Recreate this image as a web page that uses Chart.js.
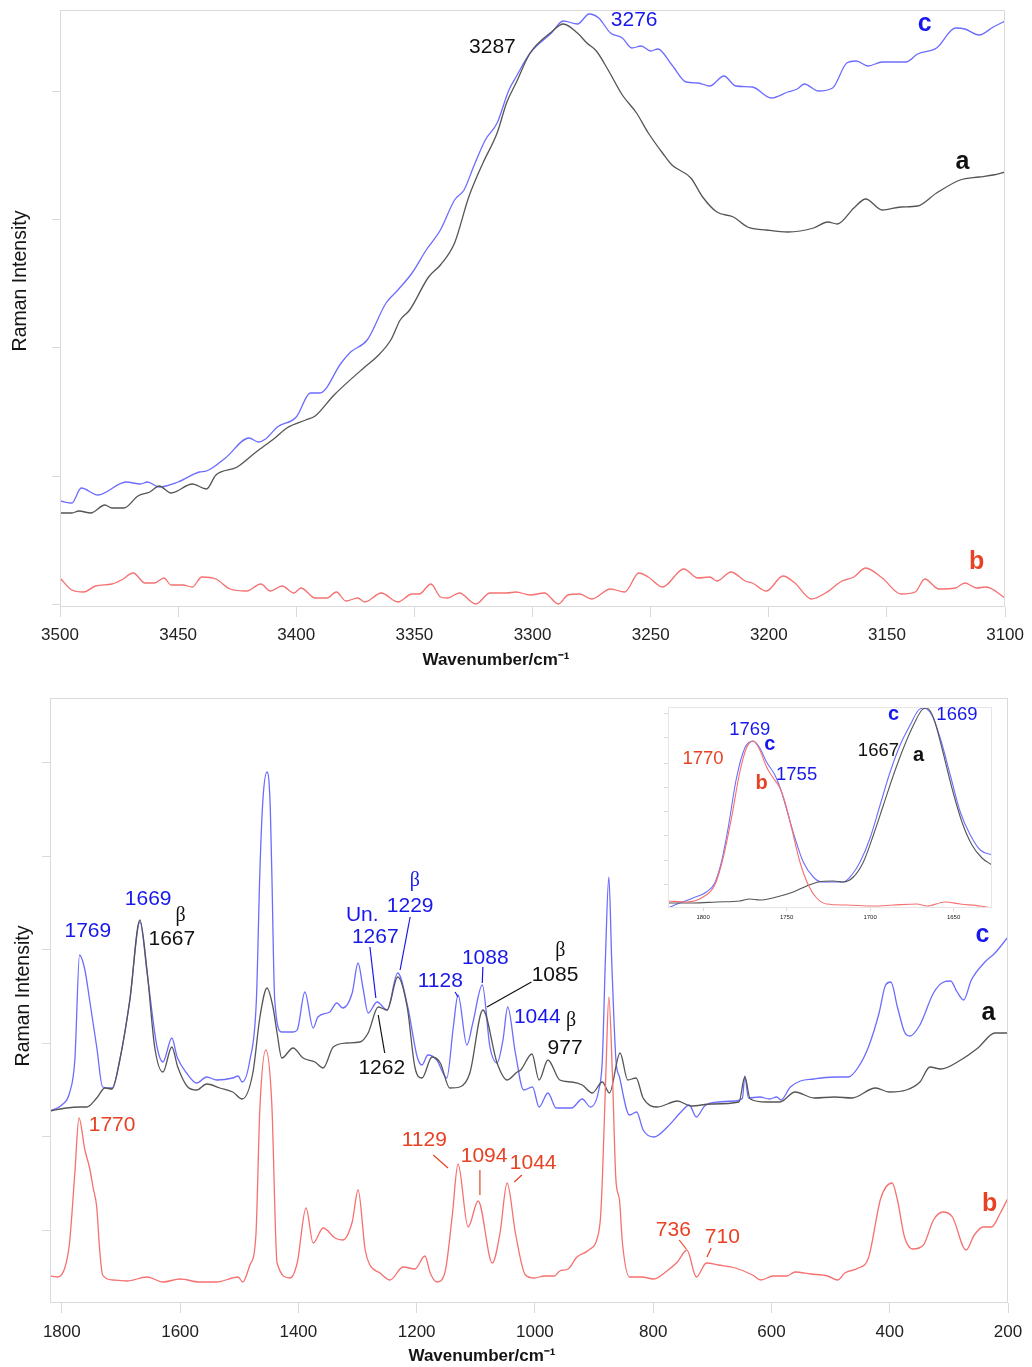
<!DOCTYPE html>
<html>
<head>
<meta charset="utf-8">
<script src="https://cdn.jsdelivr.net/npm/chart.js@4.4.1/dist/chart.umd.min.js"></script>
<style>
html,body{margin:0;padding:0;background:#fff;}
body{width:1032px;height:1367px;position:relative;overflow:hidden;}
.box{position:absolute;}
#topBox{left:0;top:0;width:1032px;height:683px;}
#botBox{left:0;top:683px;width:1032px;height:684px;}
#insetBox{left:662px;top:698px;width:342px;height:228px;}
</style>
</head>
<body>
<div class="box" id="topBox"><canvas id="topChart" width="1032" height="683"></canvas></div>
<div class="box" id="botBox"><canvas id="botChart" width="1032" height="684"></canvas></div>
<div class="box" id="insetBox"><canvas id="insetChart" width="342" height="228"></canvas></div>
<script>
// ---------------- DATA (wavenumber cm-1, Raman intensity a.u.) ----------------
// Top panel: 3500-3100 cm-1
const topXTicks = [3500, 3450, 3400, 3350, 3300, 3250, 3200, 3150, 3100];
const topYTicks = [3, 131, 260, 388, 516];
const topA = [[3500,94],[3495,94],[3492,96],[3487,94],[3481,102],[3478,99],[3473,99],[3467,111],[3462,115],[3458,121],[3453,114],[3444,123],[3438,118],[3434,132],[3425,140],[3417,155],[3409,169],[3404,179],[3396,187],[3392,191],[3384,212],[3371,240],[3366,250],[3360,267],[3356,287],[3352,297],[3344,330],[3339,342],[3333,364],[3327,410],[3321,444],[3315,474],[3311,504],[3307,524],[3301,554],[3292,575],[3287,583],[3281,574],[3277,564],[3273,556],[3268,537],[3262,512],[3256,494],[3251,474],[3245,454],[3241,442],[3233,429],[3228,410],[3222,395],[3215,390],[3209,380],[3201,377],[3192,375],[3181,379],[3175,385],[3171,383],[3164,399],[3159,408],[3152,397],[3144,400],[3137,401],[3129,414],[3119,427],[3111,430],[3105,432],[3100,435]];
const topB = [[3500,29],[3495,17],[3490,15],[3485,21],[3478,23],[3474,27],[3469,34],[3464,24],[3460,24],[3456,29],[3453,22],[3448,22],[3444,20],[3440,30],[3434,28],[3428,18],[3421,16],[3415,23],[3411,16],[3406,21],[3401,14],[3398,19],[3392,9],[3387,9],[3383,15],[3379,6],[3374,9],[3371,5],[3364,14],[3357,5],[3351,13],[3348,13],[3343,23],[3339,10],[3336,9],[3331,14],[3324,3],[3318,14],[3311,14],[3307,15],[3301,12],[3295,14],[3289,3],[3285,12],[3280,13],[3275,8],[3267,18],[3261,15],[3255,34],[3251,30],[3245,20],[3236,38],[3230,29],[3225,30],[3222,26],[3216,35],[3210,26],[3207,24],[3201,16],[3194,31],[3189,24],[3182,8],[3176,14],[3169,26],[3164,30],[3159,39],[3152,29],[3144,13],[3138,15],[3134,28],[3128,18],[3121,19],[3117,24],[3112,19],[3108,20],[3100,9]];
const topC = [[3500,106],[3495,104],[3491,119],[3484,112],[3472,125],[3466,123],[3463,125],[3458,120],[3450,125],[3441,135],[3438,136],[3430,149],[3420,169],[3416,165],[3413,168],[3408,180],[3400,190],[3394,214],[3390,214],[3381,244],[3377,255],[3370,267],[3362,304],[3357,317],[3351,334],[3345,357],[3339,377],[3333,407],[3329,417],[3325,440],[3320,467],[3315,484],[3310,517],[3307,530],[3301,554],[3292,574],[3287,586],[3281,583],[3276,593],[3272,589],[3267,574],[3262,569],[3258,559],[3254,561],[3250,556],[3247,558],[3241,542],[3235,525],[3230,524],[3225,521],[3219,531],[3214,521],[3207,520],[3199,509],[3192,515],[3188,518],[3185,523],[3179,516],[3173,519],[3167,544],[3163,546],[3158,541],[3152,545],[3142,545],[3137,553],[3129,559],[3121,579],[3117,578],[3111,572],[3105,580],[3100,586]];

// Bottom panel: 1820-200 cm-1
const botXTicks = [1800, 1600, 1400, 1200, 1000, 800, 600, 400, 200];
const botYTicks = [73, 167, 260, 354, 447, 541];
const botA = [[1820,192],[1792,195],[1770,196],[1758,196],[1741,205],[1727,215],[1715,214],[1702,243],[1685,303],[1668,383],[1656,333],[1643,256],[1629,231],[1614,256],[1604,236],[1587,216],[1572,213],[1555,219],[1533,215],[1511,211],[1495,204],[1477,230],[1465,286],[1453,315],[1443,296],[1436,270],[1428,245],[1409,255],[1392,245],[1372,241],[1358,235],[1341,256],[1318,260],[1296,261],[1282,270],[1265,296],[1250,293],[1232,326],[1216,296],[1203,236],[1191,225],[1174,246],[1160,240],[1144,215],[1127,216],[1110,230],[1088,293],[1064,240],[1047,223],[1030,231],[1024,233],[1005,249],[993,223],[978,243],[958,223],[938,221],[920,218],[903,210],[886,221],[874,210],[856,250],[843,223],[829,225],[817,205],[793,196],[759,202],[736,197],[701,199],[655,201],[645,226],[636,204],[609,201],[586,201],[560,211],[528,205],[493,206],[464,205],[424,215],[401,211],[372,213],[349,221],[332,236],[314,234],[280,243],[251,255],[222,270],[200,270]];
const botB = [[1820,27],[1807,26],[1795,35],[1787,60],[1778,130],[1771,185],[1761,153],[1753,135],[1747,115],[1741,96],[1736,53],[1731,28],[1714,23],[1690,22],[1656,26],[1629,21],[1600,24],[1567,21],[1538,21],[1502,26],[1494,21],[1482,38],[1472,66],[1465,196],[1455,253],[1445,200],[1436,40],[1414,25],[1402,40],[1387,95],[1375,60],[1358,75],[1338,65],[1325,63],[1309,81],[1299,113],[1287,53],[1279,38],[1262,30],[1245,23],[1223,36],[1203,34],[1186,47],[1177,30],[1166,21],[1152,31],[1140,86],[1130,139],[1113,76],[1096,102],[1072,40],[1059,70],[1047,120],[1033,70],[1016,28],[1001,25],[984,27],[967,27],[958,32],[944,34],[929,46],[909,53],[894,66],[889,86],[886,123],[880,230],[875,306],[869,230],[863,123],[857,103],[852,60],[840,26],[819,26],[799,24],[779,31],[759,41],[743,53],[727,26],[710,40],[690,38],[661,35],[632,28],[618,23],[597,27],[574,27],[560,31],[534,29],[505,27],[488,23],[476,30],[453,35],[436,45],[415,105],[396,120],[387,103],[375,66],[361,54],[343,58],[326,83],[310,91],[294,86],[271,53],[257,68],[242,76],[228,76],[213,90],[200,105]];
const botC = [[1820,192],[1800,198],[1787,210],[1778,243],[1770,348],[1761,333],[1753,303],[1741,256],[1731,216],[1715,215],[1702,243],[1685,303],[1668,381],[1655,326],[1639,256],[1629,241],[1614,265],[1605,246],[1589,230],[1572,220],[1555,226],[1538,223],[1511,225],[1502,227],[1495,221],[1482,243],[1471,303],[1465,433],[1460,503],[1453,531],[1448,503],[1445,433],[1440,303],[1428,271],[1409,271],[1402,273],[1389,311],[1375,275],[1367,286],[1347,291],[1335,300],[1325,295],[1309,310],[1299,340],[1291,316],[1282,290],[1267,301],[1250,293],[1232,330],[1215,296],[1199,246],[1191,238],[1181,248],[1166,243],[1149,225],[1138,276],[1130,308],[1115,258],[1105,280],[1089,318],[1076,256],[1064,240],[1054,263],[1046,296],[1033,250],[1019,213],[1004,216],[993,196],[978,210],[964,195],[938,195],[920,204],[906,196],[892,213],[886,243],[881,340],[875,426],[870,340],[863,243],[857,226],[840,188],[828,191],[817,173],[799,166],[776,176],[753,191],[739,198],[727,186],[713,197],[690,201],[661,202],[649,205],[645,227],[639,205],[620,206],[603,204],[591,206],[584,203],[568,216],[551,222],[528,224],[516,225],[488,226],[470,226],[453,236],[436,256],[418,290],[407,318],[398,321],[387,296],[375,271],[366,267],[349,278],[326,310],[309,321],[297,322],[286,311],[275,303],[262,323],[239,341],[222,350],[200,366]];

// Inset: 1821-1627 cm-1
const insetXTicks = [1800, 1750, 1700, 1650];
const insetYTicks = [24, 48, 73, 97, 121, 145, 170, 194];
const insetA = [[1821,5],[1806,5],[1792,6],[1778,7],[1772,9],[1766,8],[1756,11],[1746,16],[1738,22],[1731,26],[1722,27],[1716,26],[1710,31],[1704,46],[1698,73],[1692,103],[1686,133],[1680,160],[1674,183],[1669,198],[1666,200],[1662,190],[1657,160],[1651,120],[1645,86],[1639,63],[1633,50],[1627,43]];
const insetB = [[1821,7],[1810,6],[1800,11],[1793,23],[1788,50],[1783,90],[1778,136],[1774,160],[1770,167],[1766,158],[1762,141],[1758,130],[1754,120],[1751,106],[1747,80],[1742,46],[1737,23],[1732,10],[1726,4],[1714,3],[1698,2],[1686,3],[1672,4],[1666,2],[1655,6],[1646,4],[1634,2],[1627,0]];
const insetC = [[1821,0],[1814,5],[1806,10],[1798,16],[1793,25],[1789,46],[1785,80],[1780,130],[1775,160],[1770,167],[1766,160],[1762,146],[1757,133],[1753,116],[1749,93],[1745,70],[1740,46],[1734,31],[1729,26],[1722,26],[1716,26],[1711,33],[1706,46],[1700,70],[1694,103],[1688,136],[1682,163],[1676,183],[1671,198],[1668,200],[1663,193],[1658,170],[1652,133],[1646,96],[1640,73],[1634,58],[1627,53]];

// Peak labels [text, wavenumber, intensity, colour key, kind]
const topLabels = [
  ['3287', 3317, 560, 'a', 'num'],
  ['3276', 3257, 587, 'c', 'num'],
  ['c', 3134, 583, 'c', 'letter'],
  ['a', 3118, 445, 'a', 'letter'],
  ['b', 3112, 45, 'b', 'letter']
];
const botLabels = [
  ['1769', 1756, 372, 'c', 'num'],
  ['1669', 1654, 404, 'c', 'num'],
  ['\u03b2', 1599, 387, 'a', 'beta'],
  ['1667', 1614, 364, 'a', 'num'],
  ['Un.', 1292, 388, 'c', 'num'],
  ['\u03b2', 1203, 422, 'c', 'beta'],
  ['1229', 1211, 397, 'c', 'num'],
  ['1267', 1270, 366, 'c', 'num'],
  ['1262', 1259, 235, 'a', 'num'],
  ['1128', 1160, 322, 'c', 'num'],
  ['1088', 1084, 345, 'c', 'num'],
  ['\u03b2', 957, 352, 'a', 'beta'],
  ['1085', 966, 328, 'a', 'num'],
  ['1044', 996, 286, 'c', 'num'],
  ['\u03b2', 939, 282, 'a', 'beta'],
  ['977', 949, 255, 'a', 'num'],
  ['c', 243, 368, 'c', 'letter'],
  ['a', 233, 290, 'a', 'letter'],
  ['1770', 1715, 178, 'b', 'num'],
  ['1129', 1187, 163, 'b', 'num'],
  ['1094', 1086, 147, 'b', 'num'],
  ['1044', 1003, 140, 'b', 'num'],
  ['736', 766, 73, 'b', 'num'],
  ['710', 683, 66, 'b', 'num'],
  ['b', 231, 99, 'b', 'letter']
];
// leader lines [x1, y1, x2, y2, colour key]
const botLeaders = [
  [1279, 356, 1269, 305, 'c'],
  [1211, 386, 1228, 333, 'c'],
  [1135, 311, 1130, 306, 'c'],
  [1088, 336, 1089, 320, 'c'],
  [1265, 288, 1254, 250, 'a'],
  [1081, 296, 1006, 321, 'a'],
  [1172, 148, 1147, 135, 'b'],
  [1093, 133, 1093, 108, 'b'],
  [1022, 128, 1035, 121, 'b'],
  [756, 63, 744, 54, 'b'],
  [702, 55, 709, 46, 'b']
];
const insetLabels = [
  ['1769', 1772, 178, 'c', 'small'],
  ['c', 1760, 164, 'c', 'sletter'],
  ['1770', 1800, 149, 'b', 'small'],
  ['b', 1765, 125, 'b', 'sletter'],
  ['1755', 1744, 133, 'c', 'small'],
  ['c', 1686, 194, 'c', 'sletter'],
  ['1669', 1648, 193, 'c', 'small'],
  ['1667', 1695, 157, 'a', 'small'],
  ['a', 1671, 153, 'a', 'sletter']
];

// ---------------- STYLE ----------------
const SANS = '"Liberation Sans", Arial, Helvetica, sans-serif';
const SERIF = '"Liberation Serif", "Times New Roman", serif';
const LINE = { a: 'rgb(85,85,85)', b: 'rgb(246,112,112)', c: 'rgb(108,108,255)' };
const TEXT = { a: '#111111', b: 'rgb(232,66,36)', c: 'rgb(24,24,235)' };
const FONTS = {
  num: '21px ' + SANS,
  letter: 'bold 25px ' + SANS,
  beta: '20px ' + SERIF,
  small: '18.5px ' + SANS,
  sletter: 'bold 20px ' + SANS
};
const FRAME = '#dadada';
Chart.defaults.font.family = SANS;

const toXY = arr => arr.map(p => ({ x: p[0], y: p[1] }));
function ds(label, arr, key, w) {
  return { label, data: toXY(arr), borderColor: LINE[key], borderWidth: w || 1.3,
    pointRadius: 0, fill: false, cubicInterpolationMode: 'monotone' };
}

const decorPlugin = {
  id: 'decor',
  beforeDraw(chart, args, opts) {
    if (opts.transparent) return;
    const ctx = chart.ctx;
    ctx.save(); ctx.fillStyle = '#fff'; ctx.fillRect(0, 0, chart.width, chart.height); ctx.restore();
  },
  afterDraw(chart, args, opts) {
    const ctx = chart.ctx, a = chart.chartArea;
    const xs = chart.scales.x, ys = chart.scales.y;
    ctx.save();
    ctx.strokeStyle = opts.frameColor || FRAME; ctx.lineWidth = 1;
    ctx.strokeRect(Math.round(a.left) + 0.5, Math.round(a.top) + 0.5,
      Math.round(a.right - a.left) - 1, Math.round(a.bottom - a.top) - 1);
    (opts.leaders || []).forEach(l => {
      ctx.strokeStyle = TEXT[l[4]]; ctx.lineWidth = 1.2;
      ctx.beginPath();
      ctx.moveTo(xs.getPixelForValue(l[0]), ys.getPixelForValue(l[1]));
      ctx.lineTo(xs.getPixelForValue(l[2]), ys.getPixelForValue(l[3]));
      ctx.stroke();
    });
    ctx.textAlign = 'center'; ctx.textBaseline = 'middle';
    (opts.labels || []).forEach(t => {
      ctx.font = FONTS[t[4]]; ctx.fillStyle = TEXT[t[3]];
      ctx.fillText(t[0], xs.getPixelForValue(t[1]), ys.getPixelForValue(t[2]));
    });
    (opts.titles || []).forEach(t => {
      ctx.save();
      ctx.font = t.font; ctx.fillStyle = '#141414';
      ctx.translate(t.x, t.y); ctx.rotate(t.rot || 0);
      ctx.fillText(t.text, 0, 0);
      ctx.restore();
    });
    ctx.restore();
  }
};

function makeScales(xmin, xmax, xTicks, ymax, yTicks, xh, yw, tickFont, xTickLen, xPad, yTickLen) {
  return {
    x: {
      type: 'linear', reverse: true, min: xmin, max: xmax,
      afterBuildTicks: s => { s.ticks = xTicks.map(v => ({ value: v })); },
      afterFit: s => { s.height = xh; },
      grid: { drawOnChartArea: false, drawTicks: true, tickLength: xTickLen, color: FRAME },
      border: { display: false },
      ticks: { color: '#222', font: tickFont, padding: xPad, maxRotation: 0, autoSkip: false,
        callback: v => String(v) }
    },
    y: {
      type: 'linear', min: 0, max: ymax,
      afterBuildTicks: s => { s.ticks = yTicks.map(v => ({ value: v })); },
      afterFit: s => { s.width = yw; },
      grid: { drawOnChartArea: false, drawTicks: true, tickLength: yTickLen, color: FRAME },
      border: { display: false },
      ticks: { display: false }
    }
  };
}

const common = {
  responsive: false, animation: false, events: [],
  plugins: { legend: { display: false }, tooltip: { enabled: false } }
};

// Top chart
new Chart(document.getElementById('topChart'), {
  type: 'line',
  data: { datasets: [ds('b', topB, 'b'), ds('a', topA, 'a'), ds('c', topC, 'c')] },
  options: Object.assign({}, common, {
    layout: { padding: { left: 0, top: 10, right: 19, bottom: 0 } },
    scales: makeScales(3100, 3500, topXTicks, 597, topYTicks, 76, 60, { size: 17 }, 10, 8, 8),
    plugins: Object.assign({}, common.plugins, {
      decor: {
        labels: topLabels,
        titles: [
          { text: 'Raman Intensity', x: 21, y: 281, rot: -Math.PI / 2, font: '19.5px ' + SANS },
          { text: 'Wavenumber/cm\u207b\u00b9', x: 496, y: 660, font: 'bold 17px ' + SANS }
        ]
      }
    })
  }),
  plugins: [decorPlugin]
});

// Bottom chart
new Chart(document.getElementById('botChart'), {
  type: 'line',
  data: { datasets: [ds('b', botB, 'b'), ds('a', botA, 'a'), ds('c', botC, 'c')] },
  options: Object.assign({}, common, {
    layout: { padding: { left: 0, top: 15, right: 24, bottom: 0 } },
    scales: makeScales(200, 1820, botXTicks, 605, botYTicks, 64, 50, { size: 17 }, 10, 9, 8),
    plugins: Object.assign({}, common.plugins, {
      decor: {
        labels: botLabels,
        leaders: botLeaders,
        titles: [
          { text: 'Raman Intensity', x: 24, y: 313, rot: -Math.PI / 2, font: '19.5px ' + SANS },
          { text: 'Wavenumber/cm\u207b\u00b9', x: 482, y: 673, font: 'bold 17px ' + SANS }
        ]
      }
    })
  }),
  plugins: [decorPlugin]
});

// Inset chart
new Chart(document.getElementById('insetChart'), {
  type: 'line',
  data: { datasets: [ds('b', insetB, 'b', 1.1), ds('a', insetA, 'a', 1.1), ds('c', insetC, 'c', 1.1)] },
  options: Object.assign({}, common, {
    layout: { padding: { left: 0, top: 9, right: 12, bottom: 0 } },
    scales: makeScales(1627, 1821, insetXTicks, 201, insetYTicks, 18, 6, { size: 6 }, 3, 3, 4),
    plugins: Object.assign({}, common.plugins, {
      decor: { labels: insetLabels, frameColor: '#e6e6e6', transparent: true }
    })
  }),
  plugins: [decorPlugin]
});
</script>
</body>
</html>
